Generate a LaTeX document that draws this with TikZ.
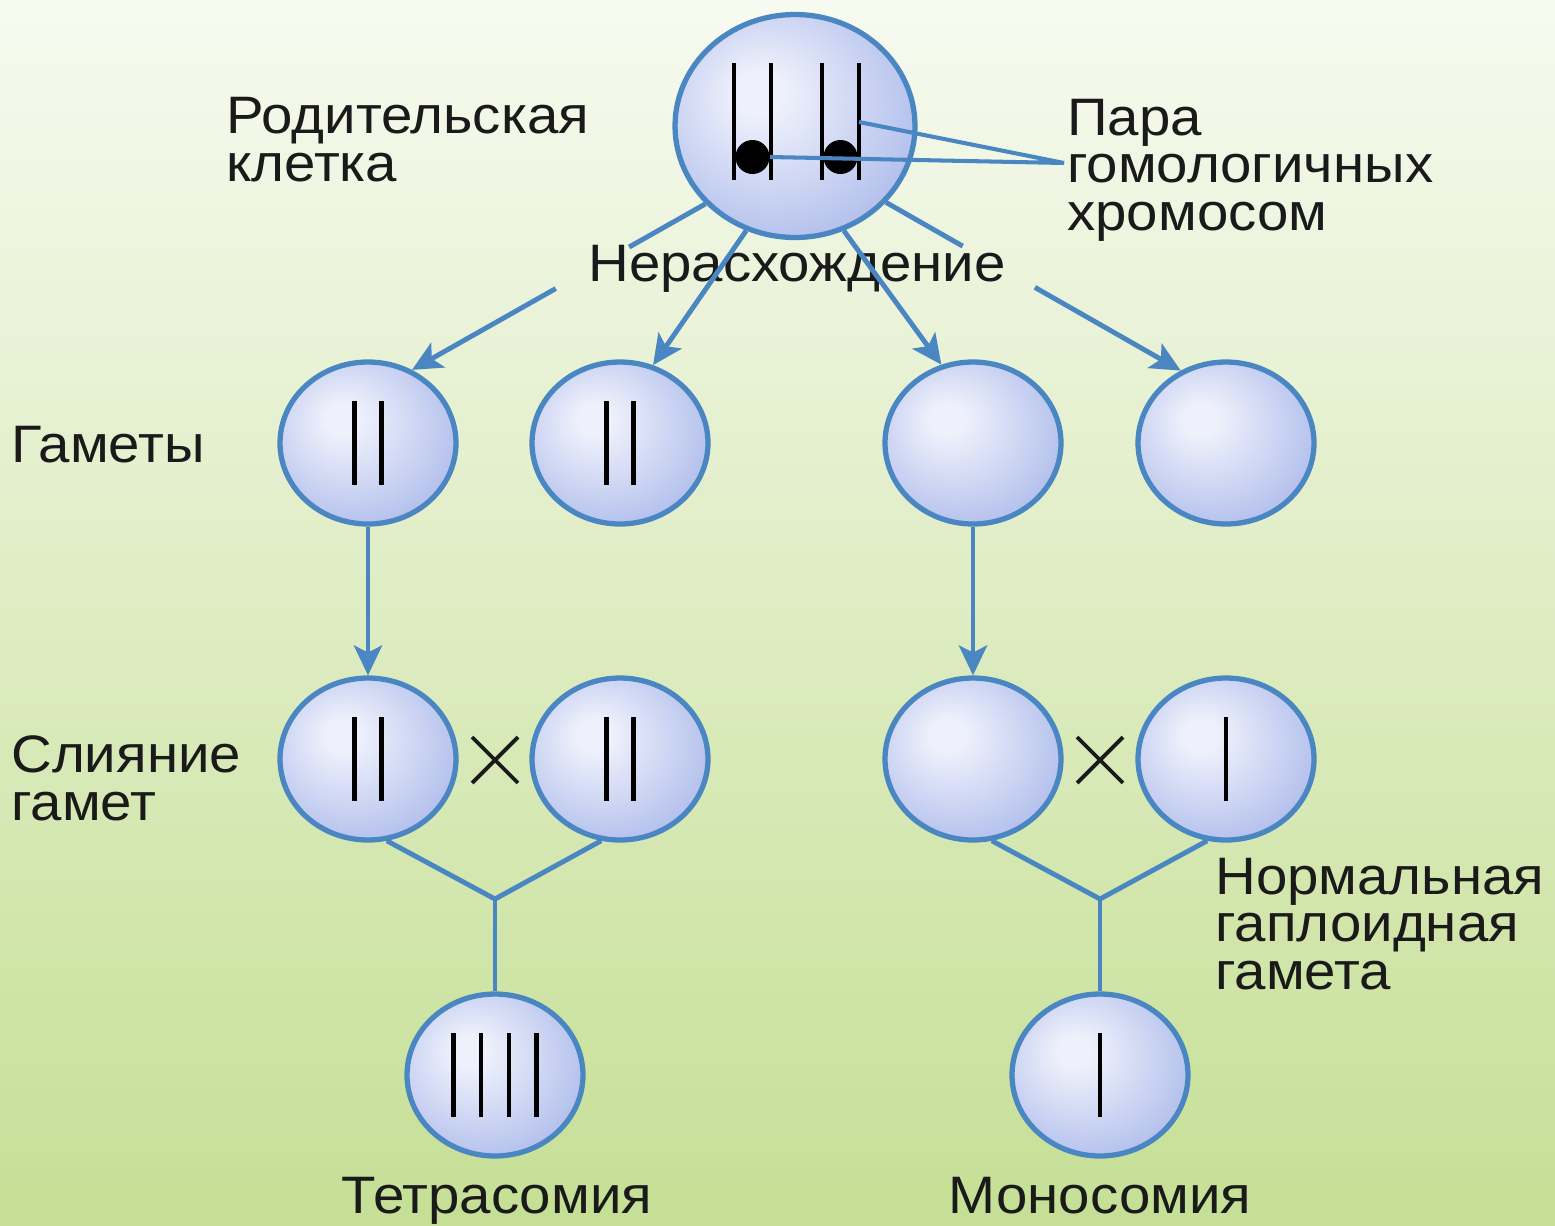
\documentclass[tikz,border=0pt]{standalone}
\usepackage{fontspec}
\setmainfont[FakeStretch=1.07]{Liberation Sans}
\usetikzlibrary{positioning}
\usetikzlibrary{shapes.geometric}
\usetikzlibrary{shapes.misc}
\usetikzlibrary{arrows.meta}
\usetikzlibrary{calc}

\definecolor{bgtop}{HTML}{F7FAF0}
\definecolor{bgmid}{HTML}{E2EEC9}
\definecolor{bgbot}{HTML}{C5DF95}
\definecolor{cellline}{HTML}{4A86C2}
\definecolor{cellhi}{HTML}{EEF0FB}
\definecolor{cellmid}{HTML}{B9C5EE}
\definecolor{cellrim}{HTML}{879CDA}
\definecolor{ink}{HTML}{1A1A1A}

\pgfdeclareradialshading{cellball}{\pgfpoint{-8bp}{8bp}}{color(0bp)=(cellhi); color(5bp)=(cellhi); color(28bp)=(cellmid); color(48bp)=(cellrim); color(60bp)=(cellrim)}

\begin{document}
\begin{tikzpicture}[x=0.02cm, y=-0.02cm]

\tikzset{
  cell/.style={ellipse, draw=cellline, line width=3pt, shade, shading=cellball,
  inner sep=0pt, minimum width=3.52cm, minimum height=3.24cm},
  bigcell/.style={cell, minimum width=4.8cm, minimum height=4.46cm},
  chromo/.style={draw=black, line width=2.4pt},
  link/.style={draw=cellline, line width=2.8pt},
  arrow/.style={link, -{Stealth[length=17pt, width=16pt, inset=4pt]}},
  txt/.style={font=\fontsize{30}{27}\selectfont, text=ink, inner sep=0pt, align=left},
  crossmark/.style={cross out, draw=ink, line width=2.2pt, minimum size=0.84cm, inner sep=0pt},
}

\shade[top color=bgtop, middle color=bgmid, bottom color=bgbot] (0,0) rectangle (1555,1225);
\useasboundingbox (0,0) rectangle (1555,1225);

% cells
\node[bigcell] (p) at (795,126) {};
\node[cell] (g1) at (368,443) {};
\node[cell] (g2) at (620,443) {};
\node[cell] (g3) at (973,443) {};
\node[cell] (g4) at (1226,443) {};
\node[cell] (f1) at (368,759) {};
\node[cell] (f2) at (620,759) {};
\node[cell] (f3) at (973,759) {};
\node[cell] (f4) at (1226,759) {};
\node[cell] (t) at (495,1075) {};
\node[cell] (m) at (1100,1075) {};

\node[crossmark] (x1) at (495,760) {};
\node[crossmark] (x2) at (1100,760) {};

% chromosomes
\foreach \x in {734,771,822,859}
  \draw[chromo, line width=2.8pt] (\x,63) -- (\x,180);
\fill (752.5,157) circle [radius=17];
\fill (840.5,157) circle [radius=17];
\coordinate (cen1) at (770,157);
\coordinate (arm4) at (859,122);

\foreach \c in {g1,g2,f1,f2} {
  \draw[chromo] ($(\c)+(-13.5,-42)$) -- ++(0,84);
  \draw[chromo] ($(\c)+(13.5,-42)$) -- ++(0,84);
}
\foreach \dx in {-41.5,-13.8,13.8,41.5}
  \draw[chromo] ($(t)+(\dx,-42)$) -- ++(0,84);
\draw[chromo] ($(f4)+(0,-42)$) -- ++(0,84);
\draw[chromo] ($(m)+(0,-42)$) -- ++(0,84);

% labels (base = last line)
\node[txt, anchor=base west] (parent) at (226,181) {Родительская\\клетка};
\node[txt, anchor=base west] (pair) at (1067,230) {Пара\\гомологичных\\хромосом};
\node[txt, anchor=base] (nondis) at (797,281) {Нерасхождение};
\node[txt, anchor=base west] (gam) at (11,462) {Гаметы};
\node[txt, anchor=base west] (fus) at (11,820) {Слияние\\гамет};
\node[txt, anchor=base west] (norm) at (1215,989) {Нормальная\\гаплоидная\\гамета};
\node[txt, anchor=base] (tetra) at (497,1213) {Тетрасомия};
\node[txt, anchor=base] (mono) at (1100,1213) {Моносомия};

% pointer
\coordinate (pp) at (1064,163);
\draw[link, line width=2.3pt] (arm4) -- (pp) -- (cen1);

% nondisjunction arrows
\coordinate (la) at ($(p.221)!0.26!(g1.59)$);
\coordinate (lb) at ($(p.221)!0.51!(g1.59)$);
\coordinate (ra) at ($(p.320)!0.26!(g4.122)$);
\coordinate (rb) at ($(p.320)!0.505!(g4.122)$);
\draw[link] (p.221) -- (la);
\draw[arrow] (lb) -- (g1.59);
\draw[arrow] (p.245) -- (g2.67);
\draw[arrow] (p.295) -- (g3.112);
\draw[link] (p.320) -- (ra);
\draw[arrow] (rb) -- (g4.122);

\draw[arrow] (g1) -- (f1);
\draw[arrow] (g3) -- (f3);

% fusion
\coordinate (jt) at (495,899);
\coordinate (jm) at (1100,899);
\draw[link] (f1.283) -- (jt) -- (f2.257);
\draw[link] (jt) -- (t);
\draw[link] (f3.283) -- (jm) -- (f4.257);
\draw[link] (jm) -- (m);
\end{tikzpicture}
\end{document}
